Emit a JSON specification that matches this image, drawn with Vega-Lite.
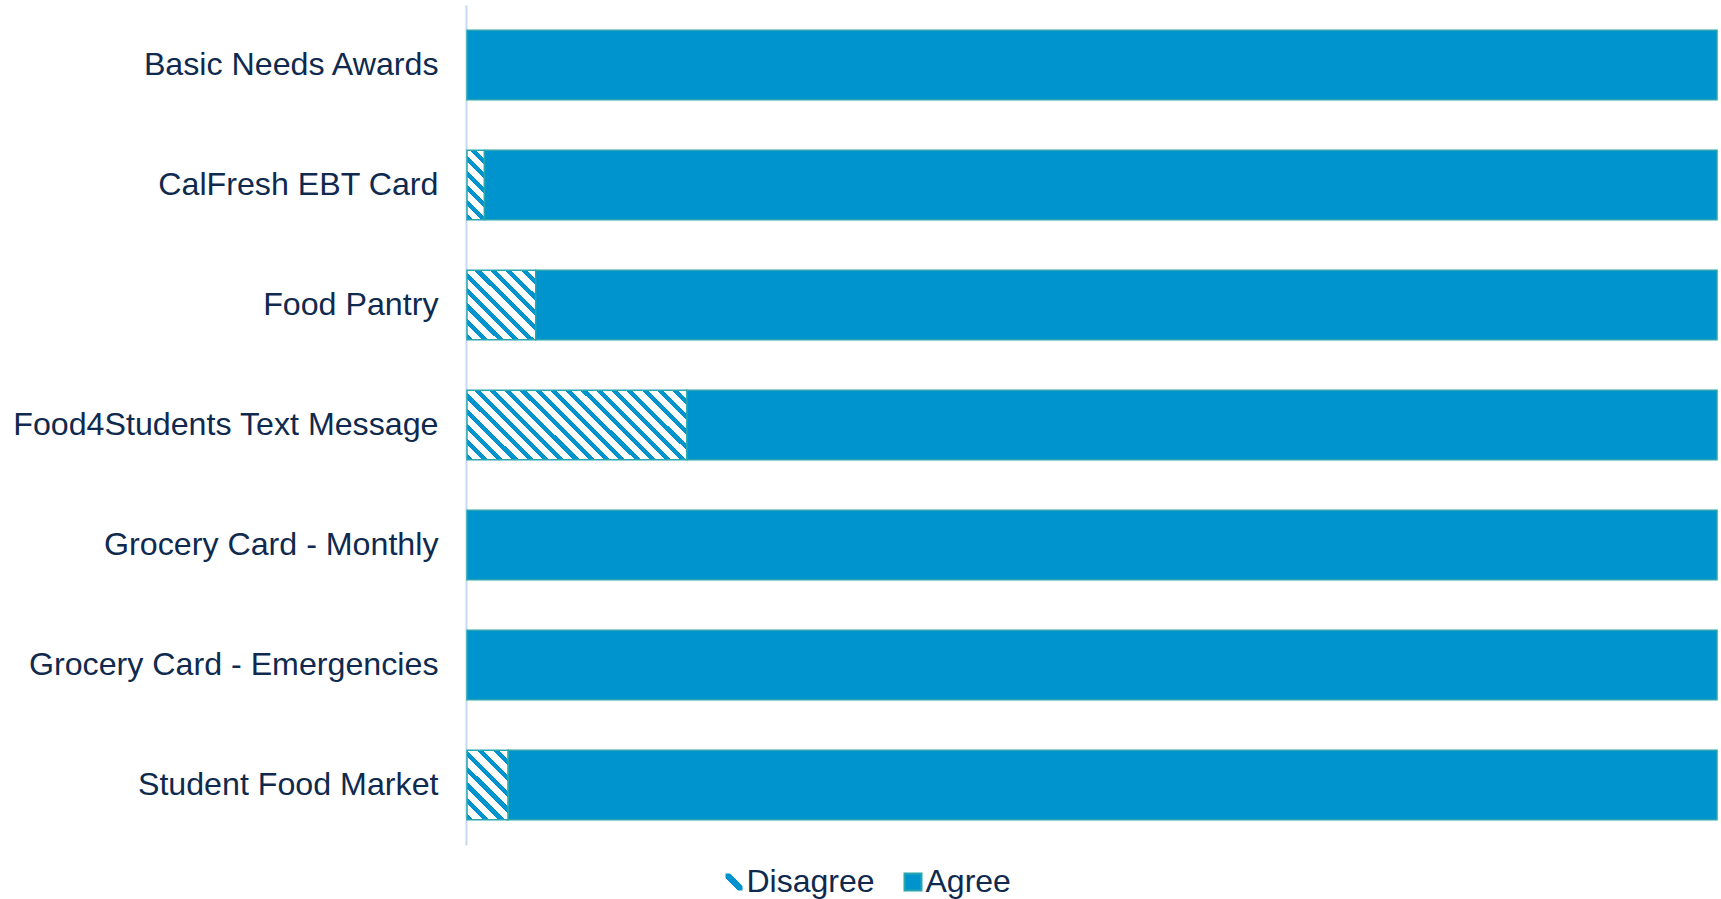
{
  "$schema": "https://vega.github.io/schema/vega-lite/v6.json",
  "autosize": {"type": "none"},
  "padding": {"left": 467, "top": 5, "right": 4, "bottom": 54},
  "width": 1250,
  "height": 840,
  "background": "#FFFFFF",
  "config": {"view": {"stroke": null}, "font": "Liberation Sans"},
  "data": {
    "values": [
      {"item": "Basic Needs Awards", "response": "Agree", "pct": 100},
      {"item": "CalFresh EBT Card", "response": "Disagree", "pct": 1.4},
      {"item": "CalFresh EBT Card", "response": "Agree", "pct": 98.6},
      {"item": "Food Pantry", "response": "Disagree", "pct": 5.5},
      {"item": "Food Pantry", "response": "Agree", "pct": 94.5},
      {"item": "Food4Students Text Message", "response": "Disagree", "pct": 17.6},
      {"item": "Food4Students Text Message", "response": "Agree", "pct": 82.4},
      {"item": "Grocery Card - Monthly", "response": "Agree", "pct": 100},
      {"item": "Grocery Card - Emergencies", "response": "Agree", "pct": 100},
      {"item": "Student Food Market", "response": "Disagree", "pct": 3.3},
      {"item": "Student Food Market", "response": "Agree", "pct": 96.7}
    ]
  },
  "mark": {"type": "bar", "stroke": "#29A5AE", "strokeWidth": 1.5},
  "encoding": {
    "y": {
      "field": "item",
      "type": "nominal",
      "sort": null,
      "scale": {"paddingInner": 0.42, "paddingOuter": 0.21},
      "axis": {
        "title": null,
        "ticks": false,
        "tickSize": 0,
        "offset": 1,
        "labelPadding": 28,
        "labelFontSize": 32.2,
        "labelColor": "#0F2A4E",
        "labelFont": "Liberation Sans",
        "labelLimit": 600,
        "domainColor": "#C5D9F1",
        "domainWidth": 2,
        "grid": false
      }
    },
    "x": {
      "field": "pct",
      "type": "quantitative",
      "stack": "zero",
      "scale": {"domain": [0, 100], "nice": false},
      "axis": null
    },
    "order": {"field": "response", "sort": "descending"},
    "opacity": {
      "field": "response",
      "type": "nominal",
      "scale": {"domain": ["Disagree"], "range": [1]},
      "legend": {
        "title": null,
        "orient": "none",
        "direction": "horizontal",
        "legendX": 251,
        "legendY": 861,
        "values": ["Disagree"],
        "symbolType": "square",
        "symbolSize": 289,
        "symbolStrokeColor": "#29A5AE",
        "symbolStrokeWidth": 2,
        "labelFontSize": 32,
        "labelFont": "Liberation Sans",
        "labelColor": "#0F2A4E",
        "labelOffset": -3.5,
        "labelLimit": 400
      }
    },
    "fill": {
      "field": "response",
      "type": "nominal",
      "scale": {"domain": ["Disagree", "Agree"], "range": ["#FFFFFF", "#0094CE"]},
      "condition": [
        {
          "test": "false",
          "value": {
            "gradient": "linear", "x1": 0, "y1": 1, "x2": 1, "y2": 0,
            "stops": [
              {"offset": 0, "color": "#FFFFFF"}, {"offset": 0.36, "color": "#FFFFFF"},
              {"offset": 0.36, "color": "#0094CE"}, {"offset": 0.64, "color": "#0094CE"},
              {"offset": 0.64, "color": "#FFFFFF"}, {"offset": 1, "color": "#FFFFFF"}
            ]
          }
        },
        {
          "test": "datum.item === 'CalFresh EBT Card' && datum.response === 'Disagree'",
          "value": {
            "gradient": "linear", "x1": 0, "y1": 1, "x2": 0.2941, "y2": -0.1765,
            "stops": [
              {"offset": 0, "color": "#0094CE"}, {"offset": 0.0667, "color": "#0094CE"}, {"offset": 0.0667, "color": "#FFFFFF"}, {"offset": 0.1667, "color": "#FFFFFF"},
              {"offset": 0.1667, "color": "#0094CE"}, {"offset": 0.2333, "color": "#0094CE"}, {"offset": 0.2333, "color": "#FFFFFF"}, {"offset": 0.3333, "color": "#FFFFFF"},
              {"offset": 0.3333, "color": "#0094CE"}, {"offset": 0.4, "color": "#0094CE"}, {"offset": 0.4, "color": "#FFFFFF"}, {"offset": 0.5, "color": "#FFFFFF"},
              {"offset": 0.5, "color": "#0094CE"}, {"offset": 0.5667, "color": "#0094CE"}, {"offset": 0.5667, "color": "#FFFFFF"}, {"offset": 0.6667, "color": "#FFFFFF"},
              {"offset": 0.6667, "color": "#0094CE"}, {"offset": 0.7333, "color": "#0094CE"}, {"offset": 0.7333, "color": "#FFFFFF"}, {"offset": 0.8333, "color": "#FFFFFF"},
              {"offset": 0.8333, "color": "#0094CE"}, {"offset": 0.9, "color": "#0094CE"}, {"offset": 0.9, "color": "#FFFFFF"}, {"offset": 1, "color": "#FFFFFF"}
            ]
          }
        },
        {
          "test": "datum.item === 'Food Pantry' && datum.response === 'Disagree'",
          "value": {
            "gradient": "linear", "x1": 0, "y1": 1, "x2": 0.9914, "y2": -0.0086,
            "stops": [
              {"offset": 0, "color": "#0094CE"}, {"offset": 0.0444, "color": "#0094CE"}, {"offset": 0.0444, "color": "#FFFFFF"}, {"offset": 0.1111, "color": "#FFFFFF"},
              {"offset": 0.1111, "color": "#0094CE"}, {"offset": 0.1556, "color": "#0094CE"}, {"offset": 0.1556, "color": "#FFFFFF"}, {"offset": 0.2222, "color": "#FFFFFF"},
              {"offset": 0.2222, "color": "#0094CE"}, {"offset": 0.2667, "color": "#0094CE"}, {"offset": 0.2667, "color": "#FFFFFF"}, {"offset": 0.3333, "color": "#FFFFFF"},
              {"offset": 0.3333, "color": "#0094CE"}, {"offset": 0.3778, "color": "#0094CE"}, {"offset": 0.3778, "color": "#FFFFFF"}, {"offset": 0.4444, "color": "#FFFFFF"},
              {"offset": 0.4444, "color": "#0094CE"}, {"offset": 0.4889, "color": "#0094CE"}, {"offset": 0.4889, "color": "#FFFFFF"}, {"offset": 0.5556, "color": "#FFFFFF"},
              {"offset": 0.5556, "color": "#0094CE"}, {"offset": 0.6, "color": "#0094CE"}, {"offset": 0.6, "color": "#FFFFFF"}, {"offset": 0.6667, "color": "#FFFFFF"},
              {"offset": 0.6667, "color": "#0094CE"}, {"offset": 0.7111, "color": "#0094CE"}, {"offset": 0.7111, "color": "#FFFFFF"}, {"offset": 0.7778, "color": "#FFFFFF"},
              {"offset": 0.7778, "color": "#0094CE"}, {"offset": 0.8222, "color": "#0094CE"}, {"offset": 0.8222, "color": "#FFFFFF"}, {"offset": 0.8889, "color": "#FFFFFF"},
              {"offset": 0.8889, "color": "#0094CE"}, {"offset": 0.9333, "color": "#0094CE"}, {"offset": 0.9333, "color": "#FFFFFF"}, {"offset": 1, "color": "#FFFFFF"}
            ]
          }
        },
        {
          "test": "datum.item === 'Food4Students Text Message' && datum.response === 'Disagree'",
          "value": {
            "gradient": "linear", "x1": 0, "y1": 1, "x2": 1.1968, "y2": 0.6196,
            "stops": [
              {"offset": 0, "color": "#0094CE"}, {"offset": 0.0211, "color": "#0094CE"}, {"offset": 0.0211, "color": "#FFFFFF"}, {"offset": 0.0526, "color": "#FFFFFF"},
              {"offset": 0.0526, "color": "#0094CE"}, {"offset": 0.0737, "color": "#0094CE"}, {"offset": 0.0737, "color": "#FFFFFF"}, {"offset": 0.1053, "color": "#FFFFFF"},
              {"offset": 0.1053, "color": "#0094CE"}, {"offset": 0.1263, "color": "#0094CE"}, {"offset": 0.1263, "color": "#FFFFFF"}, {"offset": 0.1579, "color": "#FFFFFF"},
              {"offset": 0.1579, "color": "#0094CE"}, {"offset": 0.1789, "color": "#0094CE"}, {"offset": 0.1789, "color": "#FFFFFF"}, {"offset": 0.2105, "color": "#FFFFFF"},
              {"offset": 0.2105, "color": "#0094CE"}, {"offset": 0.2316, "color": "#0094CE"}, {"offset": 0.2316, "color": "#FFFFFF"}, {"offset": 0.2632, "color": "#FFFFFF"},
              {"offset": 0.2632, "color": "#0094CE"}, {"offset": 0.2842, "color": "#0094CE"}, {"offset": 0.2842, "color": "#FFFFFF"}, {"offset": 0.3158, "color": "#FFFFFF"},
              {"offset": 0.3158, "color": "#0094CE"}, {"offset": 0.3368, "color": "#0094CE"}, {"offset": 0.3368, "color": "#FFFFFF"}, {"offset": 0.3684, "color": "#FFFFFF"},
              {"offset": 0.3684, "color": "#0094CE"}, {"offset": 0.3895, "color": "#0094CE"}, {"offset": 0.3895, "color": "#FFFFFF"}, {"offset": 0.4211, "color": "#FFFFFF"},
              {"offset": 0.4211, "color": "#0094CE"}, {"offset": 0.4421, "color": "#0094CE"}, {"offset": 0.4421, "color": "#FFFFFF"}, {"offset": 0.4737, "color": "#FFFFFF"},
              {"offset": 0.4737, "color": "#0094CE"}, {"offset": 0.4947, "color": "#0094CE"}, {"offset": 0.4947, "color": "#FFFFFF"}, {"offset": 0.5263, "color": "#FFFFFF"},
              {"offset": 0.5263, "color": "#0094CE"}, {"offset": 0.5474, "color": "#0094CE"}, {"offset": 0.5474, "color": "#FFFFFF"}, {"offset": 0.5789, "color": "#FFFFFF"},
              {"offset": 0.5789, "color": "#0094CE"}, {"offset": 0.6, "color": "#0094CE"}, {"offset": 0.6, "color": "#FFFFFF"}, {"offset": 0.6316, "color": "#FFFFFF"},
              {"offset": 0.6316, "color": "#0094CE"}, {"offset": 0.6526, "color": "#0094CE"}, {"offset": 0.6526, "color": "#FFFFFF"}, {"offset": 0.6842, "color": "#FFFFFF"},
              {"offset": 0.6842, "color": "#0094CE"}, {"offset": 0.7053, "color": "#0094CE"}, {"offset": 0.7053, "color": "#FFFFFF"}, {"offset": 0.7368, "color": "#FFFFFF"},
              {"offset": 0.7368, "color": "#0094CE"}, {"offset": 0.7579, "color": "#0094CE"}, {"offset": 0.7579, "color": "#FFFFFF"}, {"offset": 0.7895, "color": "#FFFFFF"},
              {"offset": 0.7895, "color": "#0094CE"}, {"offset": 0.8105, "color": "#0094CE"}, {"offset": 0.8105, "color": "#FFFFFF"}, {"offset": 0.8421, "color": "#FFFFFF"},
              {"offset": 0.8421, "color": "#0094CE"}, {"offset": 0.8632, "color": "#0094CE"}, {"offset": 0.8632, "color": "#FFFFFF"}, {"offset": 0.8947, "color": "#FFFFFF"},
              {"offset": 0.8947, "color": "#0094CE"}, {"offset": 0.9158, "color": "#0094CE"}, {"offset": 0.9158, "color": "#FFFFFF"}, {"offset": 0.9474, "color": "#FFFFFF"},
              {"offset": 0.9474, "color": "#0094CE"}, {"offset": 0.9684, "color": "#0094CE"}, {"offset": 0.9684, "color": "#FFFFFF"}, {"offset": 1, "color": "#FFFFFF"}
            ]
          }
        },
        {
          "test": "datum.item === 'Student Food Market' && datum.response === 'Disagree'",
          "value": {
            "gradient": "linear", "x1": 0, "y1": 1, "x2": 0.696, "y2": -0.1795,
            "stops": [
              {"offset": 0, "color": "#0094CE"}, {"offset": 0.0571, "color": "#0094CE"}, {"offset": 0.0571, "color": "#FFFFFF"}, {"offset": 0.1429, "color": "#FFFFFF"},
              {"offset": 0.1429, "color": "#0094CE"}, {"offset": 0.2, "color": "#0094CE"}, {"offset": 0.2, "color": "#FFFFFF"}, {"offset": 0.2857, "color": "#FFFFFF"},
              {"offset": 0.2857, "color": "#0094CE"}, {"offset": 0.3429, "color": "#0094CE"}, {"offset": 0.3429, "color": "#FFFFFF"}, {"offset": 0.4286, "color": "#FFFFFF"},
              {"offset": 0.4286, "color": "#0094CE"}, {"offset": 0.4857, "color": "#0094CE"}, {"offset": 0.4857, "color": "#FFFFFF"}, {"offset": 0.5714, "color": "#FFFFFF"},
              {"offset": 0.5714, "color": "#0094CE"}, {"offset": 0.6286, "color": "#0094CE"}, {"offset": 0.6286, "color": "#FFFFFF"}, {"offset": 0.7143, "color": "#FFFFFF"},
              {"offset": 0.7143, "color": "#0094CE"}, {"offset": 0.7714, "color": "#0094CE"}, {"offset": 0.7714, "color": "#FFFFFF"}, {"offset": 0.8571, "color": "#FFFFFF"},
              {"offset": 0.8571, "color": "#0094CE"}, {"offset": 0.9143, "color": "#0094CE"}, {"offset": 0.9143, "color": "#FFFFFF"}, {"offset": 1, "color": "#FFFFFF"}
            ]
          }
        }
      ],
      "legend": {
        "title": null,
        "orient": "none",
        "direction": "horizontal",
        "legendX": 430,
        "legendY": 861,
        "values": ["Agree"],
        "symbolType": "square",
        "symbolSize": 289,
        "symbolStrokeColor": "#29A5AE",
        "symbolStrokeWidth": 2,
        "labelFontSize": 32,
        "labelFont": "Liberation Sans",
        "labelColor": "#0F2A4E",
        "labelOffset": -3.5,
        "labelLimit": 400
      }
    }
  }
}
